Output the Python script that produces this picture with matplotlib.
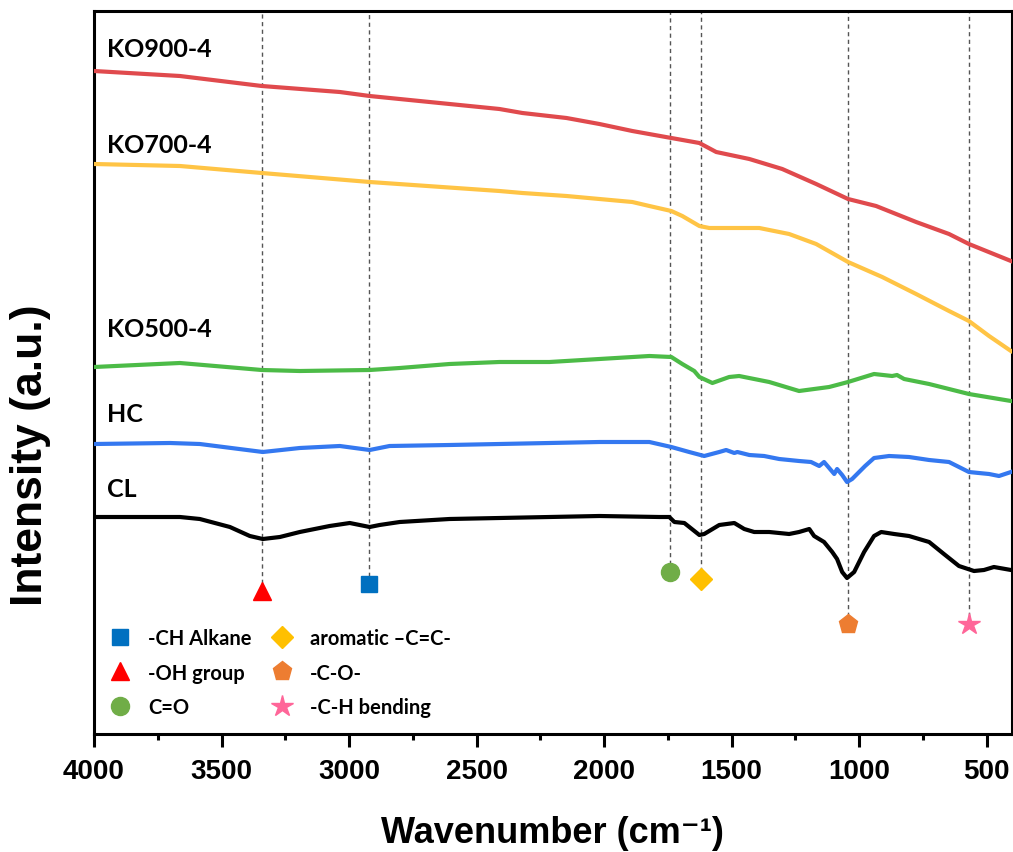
import matplotlib
matplotlib.use("Agg")
import matplotlib.pyplot as plt
from matplotlib.ticker import MultipleLocator
from matplotlib.lines import Line2D

# ---------------- data (wavenumber cm-1, intensity a.u.) ----------------
ko900_x = [4000, 3663, 3342, 3036, 2919, 2410, 2320, 2147, 2018, 1889, 1736, 1626, 1560,
           1430, 1301, 1168, 1043, 933, 776, 647, 569, 404]
ko900_y = [663, 658, 648, 642, 638, 625, 621, 616, 610, 603, 596, 591, 582,
           575, 565, 550, 535, 528, 512, 500, 490, 473]

ko700_x = [4000, 3663, 3342, 2919, 2410, 2320, 2147, 2018, 1889, 1822, 1736, 1693, 1626,
           1587, 1391, 1274, 1168, 1043, 909, 776, 647, 569, 490, 404]
ko700_y = [570, 568, 561, 552, 543, 541, 538, 535, 532, 528, 523, 518, 508,
           506, 506, 500, 490, 472, 457, 440, 423, 413, 398, 383]

ko500_x = [4000, 3663, 3342, 3193, 2919, 2801, 2606, 2410, 2214, 2018, 1822, 1736, 1693,
           1646, 1626, 1575, 1509, 1470, 1352, 1235, 1117, 1043, 941, 870, 851, 823,
           725, 647, 569, 404]
ko500_y = [367, 371, 364, 363, 364, 366, 370, 372, 372, 375, 378, 377, 370,
           363, 357, 351, 357, 358, 352, 343, 347, 352, 360, 358, 359, 355,
           350, 345, 340, 333]

hc_x = [4000, 3702, 3585, 3338, 3193, 3036, 2919, 2841, 2606, 2410, 2214, 2018, 1822,
        1736, 1666, 1607, 1548, 1521, 1489, 1477, 1430, 1372, 1313, 1235, 1188, 1156,
        1137, 1097, 1086, 1066, 1047, 1027, 976, 941, 882, 804, 725, 647, 608, 569,
        530, 490, 451, 404]
hc_y = [290, 291, 290, 282, 286, 288, 284, 288, 289, 290, 291, 292, 292,
        287, 282, 278, 282, 284, 281, 282, 279, 278, 275, 273, 272, 268,
        272, 260, 265, 259, 252, 255, 268, 276, 278, 277, 274, 272, 267, 262,
        261, 260, 258, 262]

cl_x = [4000, 3663, 3585, 3467, 3389, 3338, 3271, 3193, 3076, 2997, 2958, 2919, 2880,
        2801, 2606, 2410, 2214, 2018, 1783, 1744, 1724, 1685, 1626, 1607, 1548, 1489,
        1450, 1411, 1352, 1274, 1235, 1195, 1176, 1137, 1105, 1086, 1066, 1047, 1019,
        980, 941, 913, 862, 804, 725, 667, 608, 549, 510, 471, 404]
cl_y = [217, 217, 215, 207, 198, 195, 197, 202, 208, 211, 209, 207, 209,
        212, 215, 216, 217, 218, 217, 217, 212, 211, 199, 200, 209, 211,
        205, 202, 202, 200, 202, 205, 198, 192, 182, 175, 162, 156, 162,
        182, 198, 202, 200, 198, 192, 180, 168, 163, 164, 167, 164]

series_names = ["KO900-4", "KO700-4", "KO500-4", "HC", "CL"]
series_x = [ko900_x, ko700_x, ko500_x, hc_x, cl_x]
series_y = [ko900_y, ko700_y, ko500_y, hc_y, cl_y]
series_colors = ["#E04A4D", "#FFC445", "#4CBB47", "#3478F0", "#000000"]
label_x = [3949, 3949, 3949, 3949, 3949]
label_y = [685, 589, 405, 320, 245]

# functional-group markers
group_names = ["-CH Alkane", "-OH group", "C=O", "aromatic \u2013C=C-", "-C-O-", "-C-H bending"]
group_wn = [2920, 3340, 1740, 1620, 1045, 570]
group_y = [150, 143, 162, 155, 110, 110]
group_markers = ["s", "^", "o", "D", "p", "*"]
group_colors = ["#0070C0", "#FF0000", "#70AD47", "#FFC000", "#ED7D31", "#FF6699"]
group_sizes = [12, 13, 13, 11, 14, 16]

# ---------------- figure ----------------
fig = plt.figure(figsize=(10.13, 8.53), dpi=100)
ax = fig.add_axes([94 / 1013, 1 - 735 / 853, 918 / 1013, 723 / 853])

for xs, ys, c in zip(series_x, series_y, series_colors):
    ax.plot(xs, ys, color=c, lw=3.0, solid_joinstyle="round", zorder=3)

for name, lx, ly in zip(series_names, label_x, label_y):
    ax.text(lx, ly, name, fontsize=18, fontweight="bold", family=["Lato", "DejaVu Sans"],
            ha="left", va="center")

ymax = 723
for wn, gy in zip(group_wn, group_y):
    ax.vlines(wn, gy, ymax, colors="#555555", lw=1.0, linestyles=(0, (3, 2.5)), zorder=1)

handles = []
for wn, gy, m, c, s, n in zip(group_wn, group_y, group_markers, group_colors, group_sizes, group_names):
    ax.plot([wn], [gy], marker=m, color=c, markersize=s, linestyle="none", zorder=4)
    handles.append(Line2D([], [], marker=m, color=c, markersize=s, linestyle="none", label=n))

leg = ax.legend(handles=handles, ncol=2, loc="center left", bbox_to_anchor=(-0.007, 0.085),
                frameon=False, prop={"family": ["Lato", "DejaVu Sans"], "weight": "bold", "size": 14.5},
                handletextpad=0.7, columnspacing=0.8, labelspacing=0.72, handlelength=1.4)

ax.set_xlim(4000, 400)
ax.set_ylim(0, ymax)
ax.set_yticks([])
ax.xaxis.set_major_locator(MultipleLocator(500))
ax.xaxis.set_minor_locator(MultipleLocator(250))
ax.tick_params(axis="x", which="major", direction="out", length=9, width=2.2, pad=8,
               labelsize=20)
ax.tick_params(axis="x", which="minor", direction="out", length=4.5, width=2.2)
for lab in ax.get_xticklabels():
    lab.set_fontweight("bold")
    lab.set_family(["Liberation Sans", "DejaVu Sans"])
for sp in ax.spines.values():
    sp.set_linewidth(2.2)

ax.set_xlabel("Wavenumber (cm\u207b\u00b9)", fontsize=26, fontweight="bold",
              family=["Liberation Sans", "DejaVu Sans"])
ax.xaxis.set_label_coords(0.499, -0.136)
ax.xaxis.label.set_va("center")
ax.set_ylabel("Intensity (a.u.)", fontsize=32, fontweight="bold",
              family=["Liberation Sans", "DejaVu Sans"])
ax.yaxis.set_label_coords(-0.069, 0.387)
ax.yaxis.label.set_va("center")

fig.savefig("out.png", dpi=100)
